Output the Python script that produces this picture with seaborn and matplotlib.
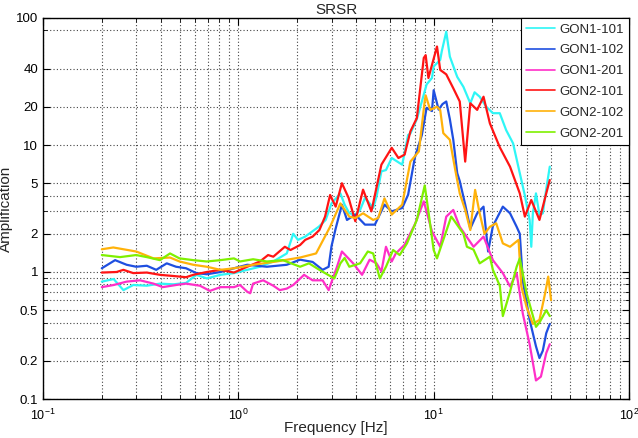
import numpy as np
import pandas as pd
import matplotlib
matplotlib.use("Agg")
import matplotlib.pyplot as plt
import matplotlib.ticker as mticker
import seaborn as sns

# station names and colours
stations = ["GON1-101", "GON1-102", "GON1-201", "GON2-101", "GON2-102", "GON2-201"]
colors = ["#2EF6F6", "#1F4FE0", "#FF2FC8", "#FF1414", "#FFB20A", "#7FF000"]

# frequency [Hz] / amplification
f_gon1_101 = [0.2, 0.23, 0.258, 0.29, 0.34, 0.397, 0.465, 0.54, 0.61, 0.69, 0.81, 0.95, 1.11, 1.29, 1.51,
              1.77, 1.91, 2.02, 2.2, 2.58, 2.8, 3.0, 3.33, 3.5, 3.7, 3.97, 4.2, 4.45, 4.7, 4.9, 5.1, 5.4,
              5.7, 6.1, 6.7, 6.9, 7.4, 7.6, 8.2, 8.7, 9.2, 9.8, 10.0, 10.8, 11.0, 11.6, 12.1, 13.2, 14.2,
              15.4, 16.2, 17.2, 18.6, 20.1, 21.8, 23.5, 25.5, 27.6, 29.3, 31.0, 31.6, 32.2, 33.4, 34.8, 36.2,
              37.7, 39.3]
a_gon1_101 = [0.84, 0.88, 0.72, 0.79, 0.78, 0.81, 0.80, 0.82, 0.95, 0.89, 0.95, 0.98, 1.04, 1.10, 1.21,
              1.40, 2.0, 1.79, 1.9, 2.27, 2.57, 3.47, 4.16, 3.39, 2.9, 2.83, 3.08, 3.83, 3.47, 3.19, 3.92, 6.2,
              6.35, 7.9, 7.2, 7.0, 12.0, 12.3, 16.0, 22.0, 30.0, 33.7, 41.5, 46.8, 54.6, 78.0, 49.7, 34.4, 28.7,
              21.3, 26.0, 24.0, 20.0, 17.8, 17.8, 13.1, 10.3, 6.0, 4.0, 2.57, 1.58, 2.9, 4.16, 2.8, 2.9,
              4.5, 6.75]

f_gon1_102 = [0.2, 0.234, 0.268, 0.30, 0.34, 0.38, 0.43, 0.48, 0.54, 0.61, 0.69, 0.81, 0.95, 1.11, 1.40,
              1.77, 2.07, 2.4, 2.7, 2.9, 3.0, 3.15, 3.39, 3.6, 3.97, 4.45, 5.0, 5.6, 6.1, 6.9, 7.4, 8.0,
              8.7, 9.2, 9.8, 10.0, 10.6, 11.1, 11.6, 12.1, 12.6, 13.2, 13.6, 14.5, 15.4, 16.7, 18.0, 19.0,
              20.1, 22.6, 24.6, 26.6, 27.6, 28.6, 31.0, 33.4, 34.8, 36.2, 37.7, 39.3]
a_gon1_102 = [1.07, 1.24, 1.14, 1.10, 1.12, 1.04, 1.17, 1.10, 1.07, 0.98, 0.96, 1.0, 1.07, 1.14, 1.10,
              1.14, 1.25, 1.2, 1.04, 1.10, 1.6, 2.2, 3.39, 2.57, 2.83, 2.36, 2.36, 3.39, 3.0, 3.19, 4.06, 7.9,
              12.0, 19.6, 18.5, 27.0, 19.0, 21.0, 22.0, 16.0, 11.0, 6.0, 5.2, 3.4, 2.2, 2.9, 3.27, 1.45,
              2.3, 3.27, 2.9, 2.27, 2.0, 0.85, 0.42, 0.26, 0.21, 0.24, 0.33, 0.39]

f_gon1_201 = [0.2, 0.23, 0.268, 0.314, 0.368, 0.41, 0.48, 0.54, 0.636, 0.715, 0.81, 0.95, 1.02, 1.11, 1.15,
              1.19, 1.34, 1.51, 1.63, 1.77, 1.91, 2.17, 2.4, 2.7, 2.9, 3.2, 3.39, 3.87, 4.3, 4.7, 5.1, 5.4,
              5.7, 6.1, 6.4, 7.1, 7.3, 8.0, 8.9, 9.8, 10.8, 11.6, 12.6, 13.6, 16.0, 18.0, 20.1, 22.6, 24.6,
              26.6, 28.6, 31.0, 33.4, 35.4, 37.7, 39.3]
a_gon1_201 = [0.76, 0.79, 0.84, 0.86, 0.81, 0.76, 0.79, 0.81, 0.78, 0.71, 0.76, 0.76, 0.79, 0.70, 0.68,
              0.81, 0.86, 0.78, 0.72, 0.74, 0.79, 0.95, 0.86, 0.86, 0.72, 1.10, 1.45, 1.17, 0.95, 1.25, 1.17, 1.01,
              1.58, 1.21, 1.40, 1.64, 1.79, 2.36, 3.6, 2.09, 1.58, 2.73, 3.08, 2.27, 1.58, 1.90, 1.24, 0.98, 0.77,
              0.98, 0.47, 0.27, 0.14, 0.15, 0.23, 0.27]

f_gon2_101 = [0.2, 0.238, 0.258, 0.29, 0.34, 0.397, 0.465, 0.54, 0.588, 0.689, 0.81, 0.95, 1.11, 1.29, 1.42,
              1.51, 1.73, 1.85, 2.07, 2.2, 2.4, 2.6, 2.78, 2.95, 3.15, 3.39, 3.67, 3.97, 4.35, 4.8, 5.4, 6.1,
              6.6, 7.1, 7.6, 8.2, 8.9, 9.1, 9.4, 10.4, 10.8, 11.6, 12.6, 13.6, 14.5, 15.4, 16.7, 18.0,
              19.4, 21.8, 24.6, 27.6, 29.3, 31.6, 34.8, 37.7, 39.3]
a_gon2_101 = [0.99, 1.0, 1.04, 0.98, 0.99, 0.95, 0.93, 0.91, 0.95, 1.0, 1.04, 0.99, 1.10, 1.21, 1.36,
              1.32, 1.58, 1.49, 1.63, 1.79, 1.90, 2.14, 2.73, 4.04, 3.27, 5.0, 3.83, 2.51, 4.45, 3.0, 7.0, 9.5,
              7.9, 8.4, 12.8, 16.3, 48.5, 51.0, 33.7, 59.6, 39.0, 36.0, 28.0, 22.0, 7.4, 21.3, 18.9, 24.0,
              14.8, 9.6, 6.75, 4.16, 2.73, 3.69, 2.57, 4.16, 5.3]

f_gon2_102 = [0.2, 0.229, 0.30, 0.368, 0.447, 0.50, 0.588, 0.689, 0.81, 0.95, 1.19, 1.57, 2.07, 2.5, 2.95,
              3.33, 3.7, 3.97, 4.35, 4.9, 5.2, 5.6, 6.1, 6.9, 7.6, 8.4, 9.0, 9.1, 9.6, 10.4, 10.8, 11.2,
              12.1, 12.9, 13.6, 14.5, 15.4, 16.3, 17.2, 18.2, 19.4, 20.9, 22.6, 24.6, 27.2, 28.1, 29.9,
              32.2, 34.8, 37.2, 38.6, 39.9]
a_gon2_102 = [1.51, 1.56, 1.45, 1.28, 1.30, 1.21, 1.14, 1.10, 1.04, 1.07, 1.14, 1.21, 1.30, 1.40, 2.27,
              3.47, 2.73, 2.66, 2.9, 2.57, 2.66, 3.8, 2.83, 3.39, 7.4, 8.9, 22.2, 24.6, 18.9, 20.0, 18.9, 12.4,
              11.0, 6.35, 4.16, 3.08, 2.14, 4.43, 2.9, 2.0, 2.27, 2.42, 1.68, 1.58, 1.79, 0.77, 0.53,
              0.39, 0.42, 0.68, 0.92, 0.60]

f_gon2_201 = [0.2, 0.248, 0.30, 0.34, 0.397, 0.447, 0.50, 0.588, 0.689, 0.81, 0.95, 1.02, 1.19, 1.40, 1.69,
              2.07, 2.3, 2.6, 3.1, 3.33, 3.5, 3.7, 4.2, 4.6, 4.9, 5.3, 5.7, 6.2, 6.7, 7.3, 8.2, 9.0, 9.4,
              10.0, 10.4, 11.2, 12.3, 12.6, 14.2, 14.8, 16.0, 17.2, 19.4, 20.1, 21.8, 22.6, 24.6, 26.6,
              27.6, 29.9, 33.4, 34.8, 37.7, 39.3]
a_gon2_201 = [1.36, 1.31, 1.36, 1.31, 1.24, 1.40, 1.28, 1.24, 1.21, 1.24, 1.28, 1.21, 1.26, 1.21, 1.24,
              1.10, 1.17, 1.04, 0.89, 1.17, 1.29, 1.10, 1.17, 1.45, 1.40, 0.89, 1.10, 1.49, 1.36, 1.68, 2.57, 4.8, 3.0,
              1.49, 1.28, 1.79, 2.73, 2.6, 2.0, 1.58, 1.5, 1.17, 1.32, 1.04, 0.78, 0.45, 0.70, 1.10,
              1.28, 0.68, 0.37, 0.40, 0.50, 0.45]

freqs = [f_gon1_101, f_gon1_102, f_gon1_201, f_gon2_101, f_gon2_102, f_gon2_201]
amps = [a_gon1_101, a_gon1_102, a_gon1_201, a_gon2_101, a_gon2_102, a_gon2_201]

frames = []
for name, f, a in zip(stations, freqs, amps):
    frames.append(pd.DataFrame({"freq": f, "amp": a, "station": name}))
df = pd.concat(frames, ignore_index=True)

sns.set_style("ticks")
plt.rcParams["font.family"] = ["Liberation Sans", "DejaVu Sans"]

fig = plt.figure(figsize=(6.38, 4.38), dpi=100)
ax = fig.add_axes([43/638, 1-399/438, (629-43)/638, (399-18)/438])

sns.lineplot(data=df, x="freq", y="amp", hue="station", palette=dict(zip(stations, colors)),
             estimator=None, sort=False, linewidth=1.6, ax=ax)

ax.set_xscale("log")
ax.set_yscale("log")
ax.set_xlim(0.1, 100)
ax.set_ylim(0.1, 100)

ax.xaxis.set_major_locator(mticker.FixedLocator([0.1, 1, 10, 100]))
ax.xaxis.set_major_formatter(mticker.LogFormatterMathtext())
ax.xaxis.set_minor_locator(mticker.LogLocator(base=10, subs=np.arange(2, 10)))
ax.xaxis.set_minor_formatter(mticker.NullFormatter())

yt = [0.1, 0.2, 0.5, 1, 2, 5, 10, 20, 40, 100]
ax.yaxis.set_major_locator(mticker.FixedLocator(yt))
ax.yaxis.set_major_formatter(mticker.FixedFormatter(["0.1", "0.2", "0.5", "1", "2", "5", "10", "20", "40", "100"]))
ax.yaxis.set_minor_locator(mticker.FixedLocator([0.3, 0.4, 0.6, 0.7, 0.8, 0.9, 3, 4, 80]))
ax.yaxis.set_minor_formatter(mticker.NullFormatter())

ax.grid(True, which="both", linestyle=(0, (1, 2)), color="#444444", linewidth=0.8)
ax.tick_params(which="both", direction="in", top=True, right=True, labelsize=9.5, colors="black")
ax.tick_params(which="major", length=5, width=0.8)
ax.tick_params(which="minor", length=3, width=0.6)
ax.tick_params(axis="x", which="major", pad=6, labelsize=9)
for s in ax.spines.values():
    s.set_color("black")
    s.set_linewidth(1.0)

ax.set_title("SRSR", fontsize=11, pad=3)
ax.set_xlabel("Frequency [Hz]", fontsize=11, labelpad=-1)
ax.set_ylabel("Amplification", fontsize=11, labelpad=2)

leg = ax.legend(loc="upper right", fontsize=9.5, frameon=True, fancybox=False, framealpha=1,
                edgecolor="black", handlelength=2.2, handletextpad=0.3, borderaxespad=0,
                labelspacing=0.65, borderpad=0.4)
leg.get_frame().set_linewidth(0.8)
for line in leg.get_lines():
    line.set_linewidth(1.2)

fig.savefig("out.png", dpi=100)
